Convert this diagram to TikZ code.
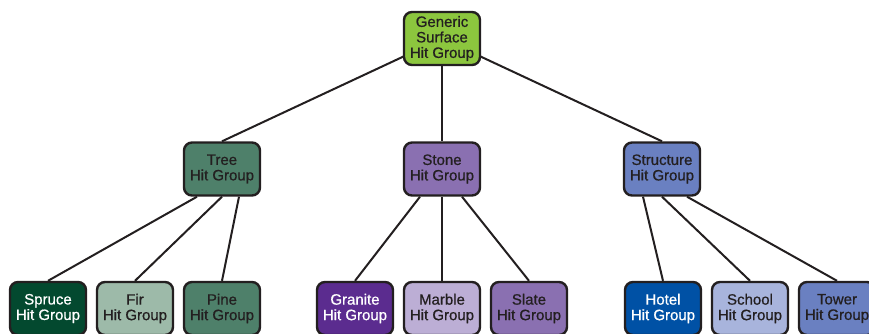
\documentclass[tikz,border=0pt]{standalone}
\usepackage{fontspec}
\setmainfont{Liberation Sans}
\newfontfamily\medfont{Liberation Sans}[FakeBold=0.7]
\usetikzlibrary{backgrounds}
\definecolor{ink}{HTML}{231F20}
\definecolor{rootc}{HTML}{8CC63E}
\definecolor{treec}{HTML}{4E806A}
\definecolor{sprucec}{HTML}{03492F}
\definecolor{firc}{HTML}{9DBAA9}
\definecolor{stonec}{HTML}{8A70B1}
\definecolor{granitec}{HTML}{5B2C8F}
\definecolor{marblec}{HTML}{BCAED5}
\definecolor{structc}{HTML}{6A80C1}
\definecolor{hotelc}{HTML}{0051A5}
\definecolor{schoolc}{HTML}{A8B4DC}
\begin{document}
\begin{tikzpicture}[x=1pt,y=-1pt,
  hitbox/.style={draw=ink, line width=2.4pt, rounded corners=8pt, minimum width=76pt, minimum height=53pt,
    inner sep=0pt, align=center, text=ink, font=\medfont\fontsize{15}{15.5}\selectfont},
  darkbox/.style={hitbox, text=white},
  link/.style={draw=ink, line width=2pt}]
\useasboundingbox (0,0) rectangle (869,333);
\clip (0,0) rectangle (869,333);
% nodes
\node[hitbox, fill=rootc] (root) at (442,38.5) {Generic\\Surface\\Hit Group};
\node[hitbox, fill=treec] (tree) at (222,169) {Tree\\Hit Group};
\node[hitbox, fill=stonec] (stone) at (442,169) {Stone\\Hit Group};
\node[hitbox, fill=structc] (struct) at (662,169) {Structure\\Hit Group};
\node[darkbox, fill=sprucec] (spruce) at (48,308.5) {Spruce\\Hit Group};
\node[hitbox, fill=firc] (fir) at (135,308.5) {Fir\\Hit Group};
\node[hitbox, fill=treec] (pine) at (222,308.5) {Pine\\Hit Group};
\node[darkbox, fill=granitec] (granite) at (355,308.5) {Granite\\Hit Group};
\node[hitbox, fill=marblec] (marble) at (442,308.5) {Marble\\Hit Group};
\node[hitbox, fill=stonec] (slate) at (529,308.5) {Slate\\Hit Group};
\node[darkbox, fill=hotelc] (hotel) at (663,308.5) {Hotel\\Hit Group};
\node[hitbox, fill=schoolc] (school) at (750,308.5) {School\\Hit Group};
\node[hitbox, fill=structc] (tower) at (837,308.5) {Tower\\Hit Group};
% connectors (behind)
\begin{scope}[on background layer]
\draw[link] (root.center) -- (tree.north);
\draw[link] (root.south) -- (stone.north);
\draw[link] (root.center) -- (struct.north);
\draw[link] ([xshift=-25pt]tree.south) -- (spruce.north);
\draw[link] (tree.south) -- (fir.north);
\draw[link] ([xshift=17pt]tree.south) -- (pine.north);
\draw[link] ([xshift=-22pt]stone.south) -- (granite.north);
\draw[link] (stone.south) -- (marble.north);
\draw[link] ([xshift=20pt]stone.south) -- (slate.north);
\draw[link] ([xshift=-19pt]struct.south) -- (hotel.north);
\draw[link] (struct.south) -- (school.north);
\draw[link] ([xshift=25pt]struct.south) -- (tower.north);
\end{scope}
\end{tikzpicture}
\end{document}
